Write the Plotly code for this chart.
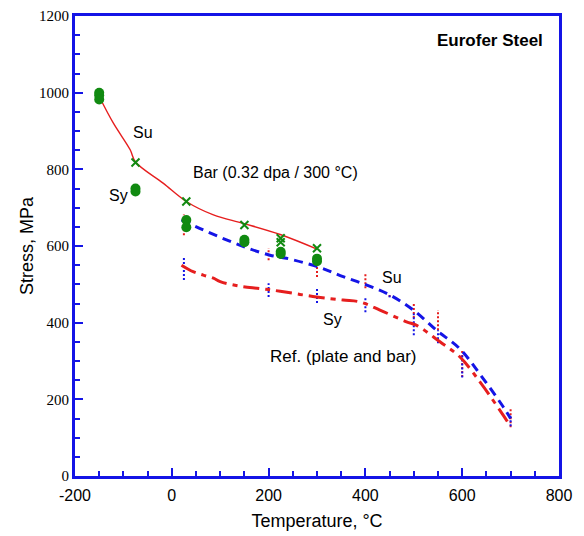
import plotly.graph_objects as go

# ---- data ----
fit_su_T = [-150, -121, -86, -75, -18, 30, 86, 148, 224, 300]
fit_su_S = [990, 921, 851, 819, 764, 716, 681, 659, 630, 592]

ref_su_T = [20, 65, 113, 158, 203, 237, 306, 354, 403, 451, 499, 547, 595, 637, 685, 700]
ref_su_S = [668, 642, 616, 594, 576, 568, 544, 520, 498, 472, 433, 380, 332, 265, 180, 150]

ref_sy_T = [20, 44, 65, 86, 100, 141, 182, 224, 299, 354, 389, 430, 485, 506, 554, 595, 637, 664, 685, 700]
ref_sy_S = [550, 533, 524, 516, 507, 495, 489, 482, 467, 459, 454, 433, 402, 393, 350, 311, 245, 197, 158, 129]

bar_su_T = [-75, 30, 150, 225, 225, 300]
bar_su_S = [818, 716, 655, 620, 610, 594]

bar_circ_T = [-150, -150, -150, -75, -75, 30, 30, 150, 150, 225, 225, 300, 300]
bar_circ_S = [1000, 993, 982, 750, 742, 668, 649, 616, 610, 585, 579, 567, 560]

# scatter ranges of reference data (T, low, high)
ref_su_rng_T = [25, 200, 300, 400, 450, 500, 550, 600, 700]
ref_su_rng_lo = [628, 563, 519, 490, 467, 412, 380, 258, 127]
ref_su_rng_hi = [682, 595, 550, 529, 477, 451, 433, 328, 176]

ref_sy_rng_T = [25, 200, 300, 400, 450, 500, 550, 600, 700]
ref_sy_rng_lo = [511, 467, 451, 427, 466, 367, 346, 257, 130]
ref_sy_rng_hi = [572, 503, 490, 467, 474, 424, 380, 315, 160]

x_ticks = [-200, 0, 200, 400, 600, 800]
x_ticktext = ["-200", "0", "200", "400", "600", "800"]
y_ticks = [0, 200, 400, 600, 800, 1000, 1200]

BLUE = "#1414e6"
RED = "#e61e1e"
GREEN = "#118a11"


def segs(T, lo, hi):
    xs, ys = [], []
    for t, a, b in zip(T, lo, hi):
        xs += [t, t, None]
        ys += [a, b, None]
    return xs, ys


fig = go.Figure()

sx, sy = segs(ref_su_rng_T, ref_su_rng_lo, ref_su_rng_hi)
fig.add_trace(go.Scatter(x=sx, y=sy, mode="lines",
                         line=dict(color=RED, width=2, dash="2px,2px"), showlegend=False))
sx, sy = segs(ref_sy_rng_T, ref_sy_rng_lo, ref_sy_rng_hi)
fig.add_trace(go.Scatter(x=sx, y=sy, mode="lines",
                         line=dict(color=BLUE, width=2, dash="2px,2px"), showlegend=False))

fig.add_trace(go.Scatter(x=ref_su_T, y=ref_su_S, mode="lines", line_shape="spline",
                         line=dict(color=BLUE, width=3, dash="9px,6px"), showlegend=False))
fig.add_trace(go.Scatter(x=ref_sy_T, y=ref_sy_S, mode="lines", line_shape="spline",
                         line=dict(color=RED, width=3, dash="16px,6px,5px,6px"), showlegend=False))
fig.add_trace(go.Scatter(x=fit_su_T, y=fit_su_S, mode="lines", line_shape="spline",
                         line=dict(color=RED, width=1.4), showlegend=False))

fig.add_trace(go.Scatter(x=bar_circ_T, y=bar_circ_S, mode="markers",
                         marker=dict(symbol="circle", size=10, color=GREEN), showlegend=False))
fig.add_trace(go.Scatter(x=bar_su_T, y=bar_su_S, mode="markers",
                         marker=dict(symbol="x-thin", size=8, color=GREEN,
                                     line=dict(color=GREEN, width=2)), showlegend=False))

ann_font = dict(family="Liberation Sans, Arial, sans-serif", size=16, color="black")
anns = [
    (-59, 895, "Su"),
    (-111, 731, "Sy"),
    (215, 793, "Bar (0.32 dpa / 300 °C)"),
    (455, 519, "Su"),
    (331, 409, "Sy"),
]
for x, y, t in anns:
    fig.add_annotation(x=x, y=y, text=t, showarrow=False, font=ann_font)
fig.add_annotation(x=509, y=312, text="Ref. (plate and bar)", showarrow=False,
                   xanchor="right",
                   font=dict(family="Liberation Sans, Arial, sans-serif", size=17, color="black"))
fig.add_annotation(x=772, y=1136, text="<b>Eurofer Steel</b>", showarrow=False,
                   xanchor="right",
                   font=dict(family="Liberation Sans, Arial, sans-serif", size=17, color="black"))

fig.update_layout(
    width=584, height=536,
    margin=dict(l=75, r=25, t=16, b=60),
    plot_bgcolor="white", paper_bgcolor="white",
    xaxis=dict(range=[-200, 800], tickvals=x_ticks, ticktext=x_ticktext, automargin=False,
               showgrid=False, zeroline=False, showline=True, linecolor=BLUE, linewidth=3,
               mirror=True, ticks="inside", ticklen=8, tickwidth=1.5, tickcolor=BLUE,
               ticklabelstandoff=3,
               minor=dict(dtick=50, ticks="inside", ticklen=5, tickwidth=1.5, tickcolor=BLUE),
               tickfont=dict(family="Liberation Sans, Arial, sans-serif", size=16, color="black"),
               title=dict(text="Temperature, °C", standoff=12,
                          font=dict(family="Liberation Sans, Arial, sans-serif", size=18, color="black"))),
    yaxis=dict(range=[0, 1200], tickvals=y_ticks, automargin=False,
               showgrid=False, zeroline=False, showline=True, linecolor=BLUE, linewidth=3,
               mirror=True, ticks="inside", ticklen=8, tickwidth=1.5, tickcolor=BLUE,
               minor=dict(dtick=50, ticks="inside", ticklen=5, tickwidth=1.5, tickcolor=BLUE),
               tickfont=dict(family="Liberation Serif, Times New Roman, serif", size=15, color="black"),
               title=dict(text="Stress, MPa", standoff=1,
                          font=dict(family="Liberation Sans, Arial, sans-serif", size=18, color="black"))),
)

fig.write_html("out.html")
